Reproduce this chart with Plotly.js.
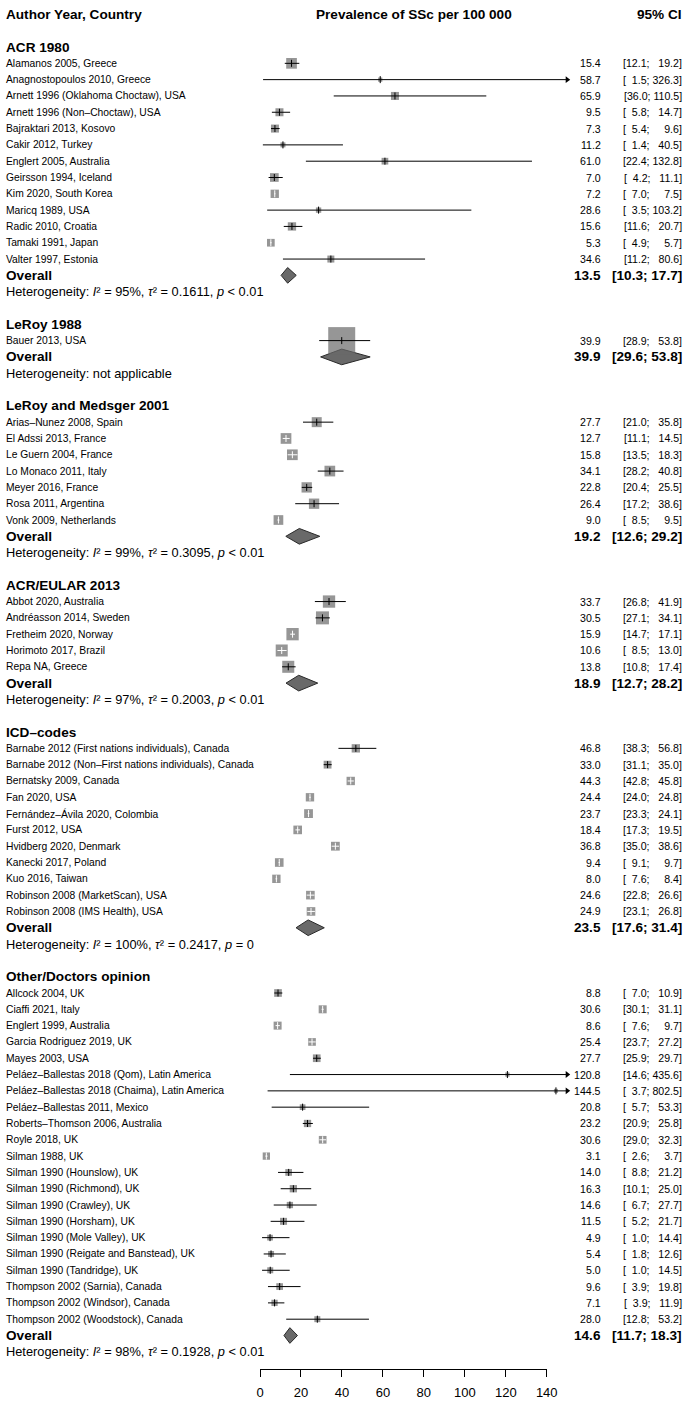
<!DOCTYPE html>
<html><head><meta charset="utf-8">
<script src="https://cdn.plot.ly/plotly-3.0.1.min.js"></script>
<style>html,body{margin:0;padding:0;background:#fff}</style>
</head><body><div id="chart" style="width:688px;height:1407px"></div>
<script>
// ---------------- DATA ----------------
const groupTitles = ["ACR 1980", "LeRoy 1988", "LeRoy and Medsger 2001", "ACR/EULAR 2013", "ICD\u2013codes", "Other/Doctors opinion"];

const acrLabels = ["Alamanos 2005, Greece", "Anagnostopoulos 2010, Greece", "Arnett 1996 (Oklahoma Choctaw), USA", "Arnett 1996 (Non\u2013Choctaw), USA", "Bajraktari 2013, Kosovo", "Cakir 2012, Turkey", "Englert 2005, Australia", "Geirsson 1994, Iceland", "Kim 2020, South Korea", "Maricq 1989, USA", "Radic 2010, Croatia", "Tamaki 1991, Japan", "Valter 1997, Estonia"];
const acrEst = [15.4, 58.7, 65.9, 9.5, 7.3, 11.2, 61.0, 7.0, 7.2, 28.6, 15.6, 5.3, 34.6];
const acrLo = [12.1, 1.5, 36.0, 5.8, 5.4, 1.4, 22.4, 4.2, 7.0, 3.5, 11.6, 4.9, 11.2];
const acrHi = [19.2, 326.3, 110.5, 14.7, 9.6, 40.5, 132.8, 11.1, 7.5, 103.2, 20.7, 5.7, 80.6];
const acrWeight = [15.7, 2.5, 8.8, 8.8, 8.8, 3.4, 6.2, 10.4, 9.5, 3.9, 9.5, 8.1, 6.7];

const leroyLabels = ["Bauer 2013, USA"];
const leroyEst = [39.9];
const leroyLo = [28.9];
const leroyHi = [53.8];
const leroyWeight = [100];

const lmLabels = ["Arias\u2013Nunez 2008, Spain", "El Adssi 2013, France", "Le Guern 2004, France", "Lo Monaco 2011, Italy", "Meyer 2016, France", "Rosa 2011, Argentina", "Vonk 2009, Netherlands"];
const lmEst = [27.7, 12.7, 15.8, 34.1, 22.8, 26.4, 9.0];
const lmLo = [21.0, 11.1, 13.5, 28.2, 20.4, 17.2, 8.5];
const lmHi = [35.8, 14.5, 18.3, 40.8, 25.5, 38.6, 9.5];
const lmWeight = [13.7, 15.7, 15.7, 15.7, 14.6, 14.6, 12.9];

const eularLabels = ["Abbot 2020, Australia", "Andr\u00e9asson 2014, Sweden", "Fretheim 2020, Norway", "Horimoto 2017, Brazil", "Repa NA, Greece"];
const eularEst = [33.7, 30.5, 15.9, 10.6, 13.8];
const eularLo = [26.8, 27.1, 14.7, 8.5, 10.8];
const eularHi = [41.9, 34.1, 17.1, 13.0, 17.4];
const eularWeight = [20.8, 23.2, 20.8, 19.8, 19.8];

const icdLabels = ["Barnabe 2012 (First nations individuals), Canada", "Barnabe 2012 (Non\u2013First nations individuals), Canada", "Bernatsky 2009, Canada", "Fan 2020, USA", "Fern\u00e1ndez\u2013\u00c1vila 2020, Colombia", "Furst 2012, USA", "Hvidberg 2020, Denmark", "Kanecki 2017, Poland", "Kuo 2016, Taiwan", "Robinson 2008 (MarketScan), USA", "Robinson 2008 (IMS Health), USA"];
const icdEst = [46.8, 33.0, 44.3, 24.4, 23.7, 18.4, 36.8, 9.4, 8.0, 24.6, 24.9];
const icdLo = [38.3, 31.1, 42.8, 24.0, 23.3, 17.3, 35.0, 9.1, 7.6, 22.8, 23.1];
const icdHi = [56.8, 35.0, 45.8, 24.8, 24.1, 19.5, 38.6, 9.7, 8.4, 26.6, 26.8];
const icdWeight = [9.6, 8.4, 9.6, 9.6, 10.6, 10.2, 10.6, 10.2, 9.6, 10.2, 10.2];

const otherLabels = ["Allcock 2004, UK", "Ciaffi 2021, Italy", "Englert 1999, Australia", "Garcia Rodriguez 2019, UK", "Mayes 2003, USA", "Pel\u00e1ez\u2013Ballestas 2018 (Qom), Latin America", "Pel\u00e1ez\u2013Ballestas 2018 (Chaima), Latin America", "Pel\u00e1ez\u2013Ballestas 2011, Mexico", "Roberts\u2013Thomson 2006, Australia", "Royle 2018, UK", "Silman 1988, UK", "Silman 1990 (Hounslow), UK", "Silman 1990 (Richmond), UK", "Silman 1990 (Crawley), UK", "Silman 1990 (Horsham), UK", "Silman 1990 (Mole Valley), UK", "Silman 1990 (Reigate and Banstead), UK", "Silman 1990 (Tandridge), UK", "Thompson 2002 (Sarnia), Canada", "Thompson 2002 (Windsor), Canada", "Thompson 2002 (Woodstock), Canada"];
const otherEst = [8.8, 30.6, 8.6, 25.4, 27.7, 120.8, 144.5, 20.8, 23.2, 30.6, 3.1, 14.0, 16.3, 14.6, 11.5, 4.9, 5.4, 5.0, 9.6, 7.1, 28.0];
const otherLo = [7.0, 30.1, 7.6, 23.7, 25.9, 14.6, 3.7, 5.7, 20.9, 29.0, 2.6, 8.8, 10.1, 6.7, 5.2, 1.0, 1.8, 1.0, 3.9, 3.9, 12.8];
const otherHi = [10.9, 31.1, 9.7, 27.2, 29.7, 435.6, 802.5, 53.3, 25.8, 32.3, 3.7, 21.2, 25.0, 27.7, 21.7, 14.4, 12.6, 14.5, 19.8, 11.9, 53.2];
const otherWeight = [8.1, 8.8, 8.8, 8.1, 8.1, 2.5, 2.2, 4.5, 7.3, 8.1, 7.3, 6.2, 7.3, 5.4, 6.7, 4.5, 4.9, 4.9, 6.2, 5.4, 4.9];

const summaryEst = [13.5, 39.9, 19.2, 18.9, 23.5, 14.6];
const summaryLo = [10.3, 29.6, 12.6, 12.7, 17.6, 11.7];
const summaryHi = [17.7, 53.8, 29.2, 28.2, 31.4, 18.3];
const hetI2 = ["95%", null, "99%", "97%", "100%", "98%"];
const hetTau2 = ["0.1611", null, "0.3095", "0.2003", "0.2417", "0.1928"];
const hetP = ["&lt; 0.01", null, "&lt; 0.01", "&lt; 0.01", "= 0", "&lt; 0.01"];

const axisTicks = [0, 20, 40, 60, 80, 100, 120, 140];
const columnHeaders = ["Author Year, Country", "Prevalence of SSc per 100 000", "95% CI"];

// ---------------- LAYOUT CONSTANTS ----------------
const W = 688, H = 1407;
const X0 = 260, PXU = 2.048;          // pixel of x=0, pixels per unit
const ROW0 = 14.4, ROWPX = 16.31;     // pixel of row 0, pixels per row
const XLIM = 150;
const FONT = '"Liberation Sans", Arial, Helvetica, sans-serif';
const BOX_K = 2.7;
const GREY = '#696969';
const LABEL_X = 6, EST_R = 601, CI_R = 682;
const AXIS_PX = 1369;
const FS_LABEL = 10.3, FS_NUM = 10.6, FS_BOLD = 13.6, FS_HET = 12.8;

const groups = [
  {labels: acrLabels, est: acrEst, lo: acrLo, hi: acrHi, w: acrWeight},
  {labels: leroyLabels, est: leroyEst, lo: leroyLo, hi: leroyHi, w: leroyWeight},
  {labels: lmLabels, est: lmEst, lo: lmLo, hi: lmHi, w: lmWeight},
  {labels: eularLabels, est: eularEst, lo: eularLo, hi: eularHi, w: eularWeight},
  {labels: icdLabels, est: icdEst, lo: icdLo, hi: icdHi, w: icdWeight},
  {labels: otherLabels, est: otherEst, lo: otherLo, hi: otherHi, w: otherWeight}
];

const FSP = '\u2007', NB = '\u00a0';
const f1 = v => v.toFixed(1);
let LW = 0, UW = 0;
groups.forEach(g => { g.lo.forEach(v => LW = Math.max(LW, f1(v).length)); g.hi.forEach(v => UW = Math.max(UW, f1(v).length)); });
const pad = (s, n) => FSP.repeat(Math.max(0, n - s.length)) + s;
const ciStudy = (lo, hi) => '[' + pad(f1(lo), LW) + ';' + NB + pad(f1(hi), UW) + ']';
const ciSum = (lo, hi) => '[' + f1(lo) + ';' + NB + f1(hi) + ']';

const ann = [];
function txt(px, row, text, anchor, size, bold) {
  ann.push({xref: 'paper', x: px / W, yref: 'y', y: row, xanchor: anchor, yanchor: 'middle',
    text: text, showarrow: false, borderpad: 0, borderwidth: 0,
    font: {family: FONT, size: size, color: '#000', weight: bold ? 'bold' : 'normal'}});
}

// header
txt(LABEL_X, 0, columnHeaders[0], 'left', FS_BOLD, true);
ann.push({xref: 'x', x: XLIM / 2, yref: 'y', y: 0, xanchor: 'center', yanchor: 'middle', text: columnHeaders[1],
  showarrow: false, borderpad: 0, borderwidth: 0, font: {family: FONT, size: FS_BOLD, color: '#000', weight: 'bold'}});
txt(CI_R, 0, columnHeaders[2], 'right', FS_BOLD, true);

const boxX = [], boxY = [], boxS = [];
const blackLX = [], blackLY = [], whiteLX = [], whiteLY = [];
const tickBX = [], tickBY = [], tickWX = [], tickWY = [];
const arrowX = [], arrowY = [];
const diaX = [], diaY = [];
const DH = 0.48;

let r = 2;
groups.forEach((g, gi) => {
  txt(LABEL_X, r, groupTitles[gi], 'left', FS_BOLD, true);
  g.labels.forEach((lab, i) => {
    const row = r + 1 + i;
    const s = BOX_K * Math.sqrt(g.w[i]);
    boxX.push(g.est[i]); boxY.push(row); boxS.push(s);
    const inside = (g.hi[i] - g.lo[i]) * PXU <= s;
    const x0 = Math.max(g.lo[i], 0), x1 = Math.min(g.hi[i], XLIM);
    if (inside) { whiteLX.push(x0, x1, null); whiteLY.push(row, row, null); tickWX.push(g.est[i]); tickWY.push(row); }
    else { blackLX.push(x0, x1, null); blackLY.push(row, row, null); tickBX.push(g.est[i]); tickBY.push(row); }
    if (g.hi[i] > XLIM) { arrowX.push(XLIM); arrowY.push(row); }
    txt(LABEL_X, row, lab, 'left', FS_LABEL, false);
    txt(EST_R, row, f1(g.est[i]), 'right', FS_NUM, false);
    txt(CI_R, row, ciStudy(g.lo[i], g.hi[i]), 'right', FS_NUM, false);
  });
  const orow = r + 1 + g.labels.length;
  txt(LABEL_X, orow, 'Overall', 'left', FS_BOLD, true);
  txt(EST_R, orow, f1(summaryEst[gi]), 'right', FS_BOLD, true);
  txt(CI_R, orow, ciSum(summaryLo[gi], summaryHi[gi]), 'right', FS_BOLD, true);
  diaX.push(summaryLo[gi], summaryEst[gi], summaryHi[gi], summaryEst[gi], summaryLo[gi], null);
  diaY.push(orow, orow - DH, orow, orow + DH, orow, null);
  const hrow = orow + 1;
  const het = hetI2[gi] === null ? 'Heterogeneity: not applicable'
    : 'Heterogeneity: <i>I</i>\u00b2 = ' + hetI2[gi] + ', <i>\u03c4</i>\u00b2 = ' + hetTau2[gi] + ', <i>p</i> ' + hetP[gi];
  txt(LABEL_X, hrow, het, 'left', FS_HET, false);
  r = hrow + 2;
});

const traces = [
  {type: 'scatter', mode: 'lines', x: diaX, y: diaY, fill: 'toself', fillcolor: GREY,
   line: {color: '#2a2a2a', width: 1}, hoverinfo: 'skip'},
  {type: 'scatter', mode: 'markers', x: boxX, y: boxY,
   marker: {symbol: 'square', size: boxS, color: GREY, line: {width: 0}}, hoverinfo: 'skip'},
  {type: 'scatter', mode: 'lines', x: blackLX, y: blackLY, line: {color: '#000', width: 1}, hoverinfo: 'skip'},
  {type: 'scatter', mode: 'lines', x: whiteLX, y: whiteLY, line: {color: '#fff', width: 1}, hoverinfo: 'skip'},
  {type: 'scatter', mode: 'markers', x: tickBX, y: tickBY,
   marker: {symbol: 'line-ns', size: 5, line: {color: '#000', width: 1}}, hoverinfo: 'skip'},
  {type: 'scatter', mode: 'markers', x: tickWX, y: tickWY,
   marker: {symbol: 'line-ns', size: 5, line: {color: '#fff', width: 1}}, hoverinfo: 'skip'},
  {type: 'scatter', mode: 'markers', x: arrowX, y: arrowY,
   marker: {symbol: 'triangle-right', size: 6, color: '#000', line: {width: 0}}, hoverinfo: 'skip'},
  {type: 'scatter', mode: 'markers', x: [], y: [], xaxis: 'x2', yaxis: 'y2', hoverinfo: 'skip'}
];

const layout = {
  width: W, height: H, margin: {l: 0, r: 0, t: 0, b: 0}, showlegend: false,
  paper_bgcolor: '#fff', plot_bgcolor: 'rgba(0,0,0,0)',
  xaxis: {domain: [0, 1], range: [-X0 / PXU, (W - X0) / PXU], visible: false, fixedrange: true},
  yaxis: {domain: [0, 1], range: [(H - ROW0) / ROWPX, -ROW0 / ROWPX], visible: false, fixedrange: true},
  xaxis2: {domain: [X0 / W, (X0 + 140 * PXU) / W], range: [0, 140], anchor: 'y2', side: 'bottom',
    showline: true, linecolor: '#000', linewidth: 1, ticks: 'outside', ticklen: 7, tickwidth: 1, tickcolor: '#000',
    tickmode: 'array', tickvals: axisTicks, ticktext: axisTicks.map(String), showgrid: false, zeroline: false,
    tickfont: {family: FONT, size: 13, color: '#000'}, ticklabelstandoff: 4, fixedrange: true},
  yaxis2: {domain: [(H - AXIS_PX) / H, (H - AXIS_PX) / H + 0.005], anchor: 'x2', range: [0, 1], visible: false, fixedrange: true},
  annotations: ann
};

Plotly.newPlot('chart', traces, layout, {staticPlot: true, displayModeBar: false});
</script></body></html>
